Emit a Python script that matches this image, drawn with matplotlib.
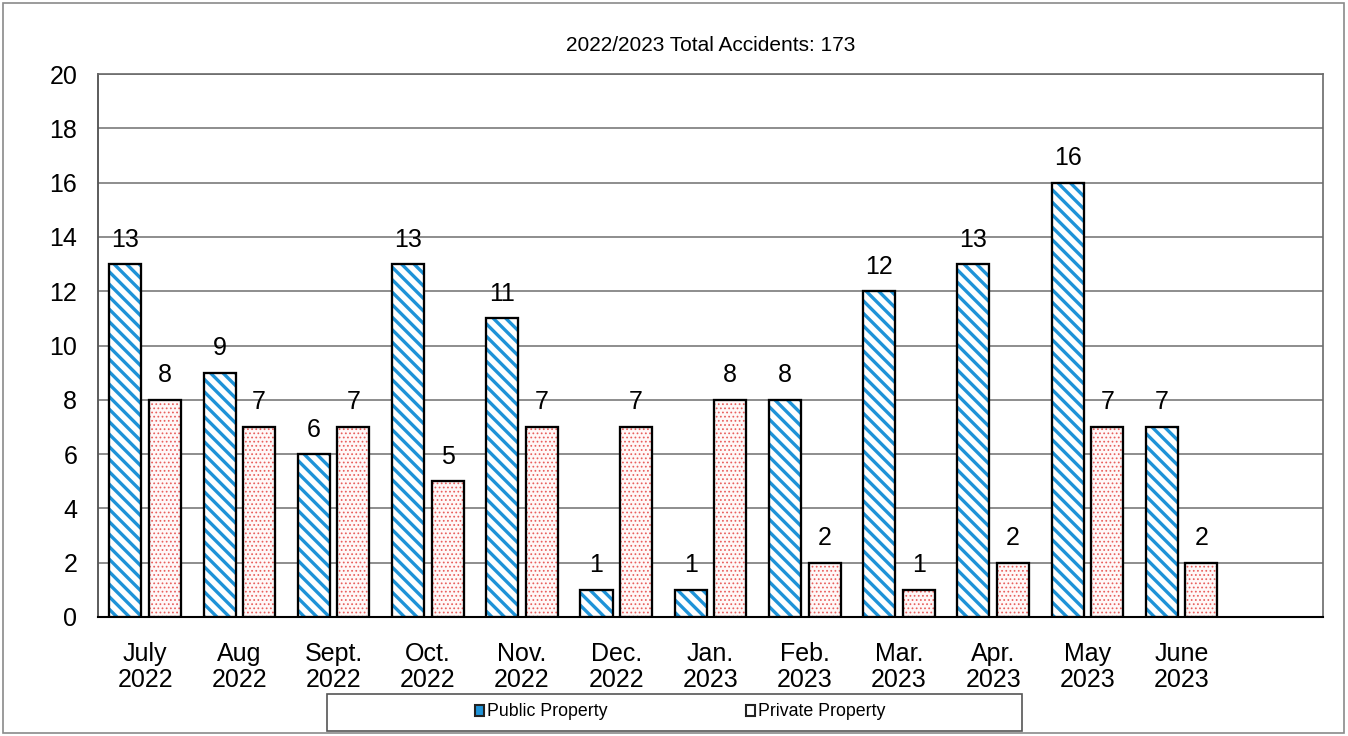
import matplotlib.pyplot as plt
from matplotlib.patches import Rectangle, Patch
import numpy as np

# Data
months = ["July\n2022", "Aug\n2022", "Sept.\n2022", "Oct.\n2022", "Nov.\n2022", "Dec.\n2022",
          "Jan.\n2023", "Feb.\n2023", "Mar.\n2023", "Apr.\n2023", "May\n2023", "June\n2023"]
public_counts = [13, 9, 6, 13, 11, 1, 1, 8, 12, 13, 16, 7]
private_counts = [8, 7, 7, 5, 7, 7, 8, 2, 1, 2, 7, 2]
total = 173

plt.rcParams['font.family'] = ['Liberation Sans', 'DejaVu Sans']

DPI = 150
fig = plt.figure(figsize=(1348 / DPI, 736 / DPI), dpi=DPI)
ax = fig.add_axes([98 / 1348, 1 - 617 / 736, (1323 - 98) / 1348, (617 - 74) / 736])

x = np.arange(len(months))
w = 0.34
off = 0.21
blue = '#1f93d8'
dots = '#e8605e'

b1 = ax.bar(x - off, public_counts, w, facecolor='white', edgecolor=blue,
            hatch='\\\\\\\\', linewidth=0, zorder=3)
b2 = ax.bar(x + off, private_counts, w, facecolor='#fff8f8', edgecolor=dots,
            hatch='......', linewidth=0, zorder=3)
for p in b1:
    if hasattr(p, 'set_hatch_linewidth'):
        p.set_hatch_linewidth(1.6)
for p in b2:
    if hasattr(p, 'set_hatch_linewidth'):
        p.set_hatch_linewidth(0.5)
# black outlines on top
ax.bar(x - off, public_counts, w, fill=False, edgecolor='black', linewidth=1.1, zorder=4)
ax.bar(x + off, private_counts, w, fill=False, edgecolor='black', linewidth=1.1, zorder=4)

for xi, v in zip(x - off, public_counts):
    ax.annotate(str(v), (xi, v), xytext=(0, 6), textcoords='offset points',
                ha='center', va='bottom', fontsize=12)
for xi, v in zip(x + off, private_counts):
    ax.annotate(str(v), (xi, v), xytext=(0, 6), textcoords='offset points',
                ha='center', va='bottom', fontsize=12)

ax.set_xlim(-0.5, 12.5)
ax.set_ylim(0, 20)
ax.set_yticks(range(0, 21, 2))
ax.set_xticks(x)
ax.set_xticklabels(months, linespacing=1.12)
ax.tick_params(axis='both', length=0, labelsize=12)
ax.tick_params(axis='y', pad=10)
ax.tick_params(axis='x', pad=12)
ax.yaxis.grid(True, color='#7a7a7a', linewidth=0.8, zorder=0)
ax.set_axisbelow(True)
for s in ['top', 'right']:
    ax.spines[s].set_color('#6a6a6a')
    ax.spines[s].set_linewidth(0.8)
ax.spines['left'].set_color('#555555')
ax.spines['left'].set_linewidth(0.9)
ax.spines['bottom'].set_color('black')
ax.spines['bottom'].set_linewidth(1.0)

ax.set_title(f"2022/2023 Total Accidents: {total}", fontsize=10, pad=11)

# legend box and entries
fig.patches.append(Rectangle((327 / 1348, 1 - 731 / 736), (1022 - 327) / 1348, 37 / 736,
                             transform=fig.transFigure, fill=False, edgecolor='#555555',
                             linewidth=0.8))
handles = [Patch(facecolor=blue, edgecolor='#222222', linewidth=1.0),
           Patch(facecolor='white', edgecolor='#222222', linewidth=1.0)]
fig.legend(handles, ["Public Property", "Private Property"], ncol=2, frameon=False,
           loc='center', bbox_to_anchor=(680 / 1348, 1 - 712 / 736), fontsize=8.5,
           handlelength=0.55, handleheight=0.55, handletextpad=0.15, columnspacing=7.8,
           borderpad=0)

# outer border
fig.patches.append(Rectangle((3 / 1348, 3 / 736), 1341 / 1348, 730 / 736,
                             transform=fig.transFigure, fill=False, edgecolor='#8a8a8a',
                             linewidth=0.8))

fig.savefig('out.png', dpi=DPI)
